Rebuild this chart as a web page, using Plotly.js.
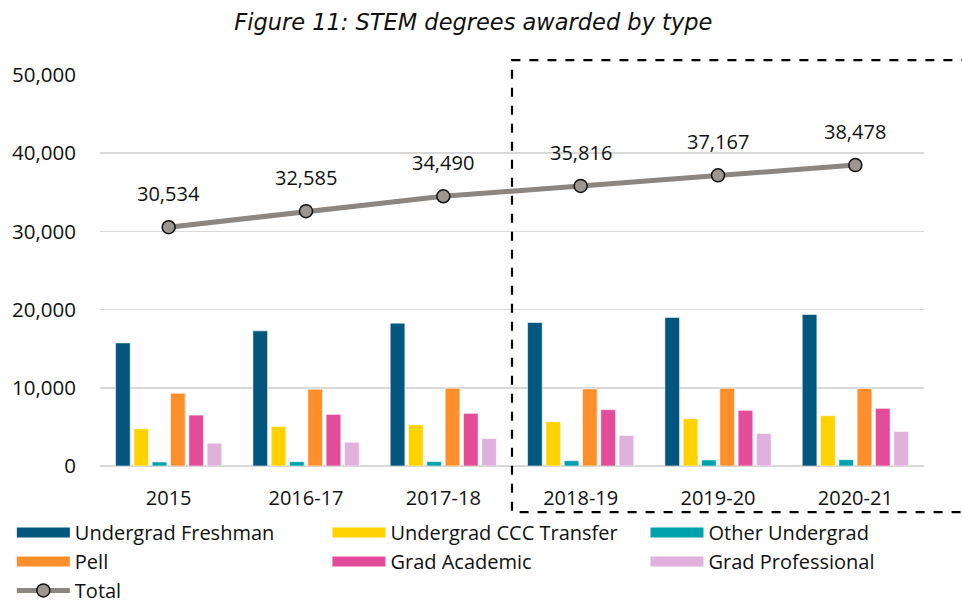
<!DOCTYPE html>
<html>
<head>
<meta charset="utf-8">
<script src="https://cdn.plot.ly/plotly-3.0.1.min.js"></script>
<style>html,body{margin:0;padding:0;background:#fff;}#chart{width:962px;height:600px;}</style>
</head>
<body>
<div id="chart"></div>
<script>
const years = ["2015", "2016-17", "2017-18", "2018-19", "2019-20", "2020-21"];
const seriesNames = ["Undergrad Freshman", "Undergrad CCC Transfer", "Other Undergrad", "Pell", "Grad Academic", "Grad Professional"];
const freshman = [15740, 17280, 18270, 18350, 19000, 19380];
const cccTransfer = [4760, 5060, 5280, 5660, 6050, 6430];
const otherUndergrad = [520, 550, 560, 680, 770, 810];
const pell = [9300, 9820, 9950, 9860, 9950, 9910];
const gradAcademic = [6510, 6600, 6730, 7200, 7120, 7370];
const gradProfessional = [2910, 3040, 3510, 3900, 4160, 4410];
const total = [30534, 32585, 34490, 35816, 37167, 38478];
const colors = ["#03577f", "#ffd200", "#00a3ad", "#ff8f2b", "#e44c9a", "#e0b1dd"];
const legendIds = ["legend", "legend2", "legend3", "legend", "legend2", "legend3"];

const FONT = "Open Sans, Lato, sans-serif";
const seriesValues = [freshman, cccTransfer, otherUndergrad, pell, gradAcademic, gradProfessional];

const traces = [];
seriesValues.forEach((vals, i) => {
  traces.push({
    type: "bar", x: years, y: vals, name: seriesNames[i],
    marker: {color: colors[i], line: {color: "rgba(255,255,255,0.55)", width: 1}},
    showlegend: false, legendgroup: "g" + i, hoverinfo: "x+y+name"
  });
});
// legend entries (wide swatches)
seriesValues.forEach((vals, i) => {
  traces.push({
    type: "scatter", mode: "lines", x: [years[0]], y: [null], name: seriesNames[i],
    line: {color: colors[i], width: 14}, legendgroup: "g" + i, legend: legendIds[i],
    hoverinfo: "skip"
  });
});
traces.push({
  type: "scatter", mode: "lines+markers", x: years, y: total, name: "Total",
  line: {color: "#8c8580", width: 5},
  marker: {color: "#9c9590", size: 13, line: {color: "#111", width: 1.5}},
  legend: "legend"
});

const annotations = years.map((yr, i) => ({
  x: i, y: total[i], xref: "x", yref: "y", text: total[i].toLocaleString("en-US"),
  showarrow: false, yanchor: "bottom", yshift: 18,
  font: {family: FONT, size: 20, color: "#111"}
}));

const legendBase = {
  orientation: "v", xanchor: "left", yanchor: "top", y: -0.12,
  font: {family: FONT, size: 20, color: "#111"}, itemwidth: 53,
  bgcolor: "rgba(0,0,0,0)", tracegroupgap: 0, traceorder: "normal"
};

const layout = {
  width: 962, height: 600,
  margin: {l: 100, r: 38, t: 75, b: 134, autoexpand: false},
  paper_bgcolor: "#fff", plot_bgcolor: "#fff",
  title: {text: "<i>Figure 11: STEM degrees awarded by type</i>", x: 0.492, xanchor: "center", y: 0.963, yanchor: "middle",
          font: {family: "DejaVu Sans, sans-serif", size: 22.5, color: "#111"}},
  barmode: "group", bargap: 0.2, bargroupgap: 0.2,
  xaxis: {type: "category", range: [-0.5, 5.5], showgrid: false, zeroline: false, showline: false, ticks: "",
          tickfont: {family: FONT, size: 20, color: "#111"}, ticklabelstandoff: 18, automargin: false},
  yaxis: {range: [0, 50000], tickvals: [0, 10000, 20000, 30000, 40000, 50000], tickformat: ",d",
          showgrid: true, gridcolor: "#d9d9d9", gridwidth: 1.5, zeroline: true, zerolinecolor: "#d9d9d9", zerolinewidth: 1.5,
          showline: false, ticks: "", tickfont: {family: FONT, size: 20.5, color: "#111"}, ticklabelstandoff: 23, automargin: false},
  showlegend: true,
  legend: Object.assign({}, legendBase, {x: -0.107}),
  legend2: Object.assign({}, legendBase, {x: 0.276}),
  legend3: Object.assign({}, legendBase, {x: 0.662}),
  annotations: annotations,
  shapes: [{
    type: "path", xref: "paper", yref: "paper",
    path: "M 1.1,1.038 L 0.5,1.038 L 0.5,-0.118 L 1.1,-0.118",
    line: {color: "#000", width: 2.2, dash: "dash"}
  }]
};

Plotly.newPlot("chart", traces, layout, {displayModeBar: false, staticPlot: true});
</script>
</body>
</html>
